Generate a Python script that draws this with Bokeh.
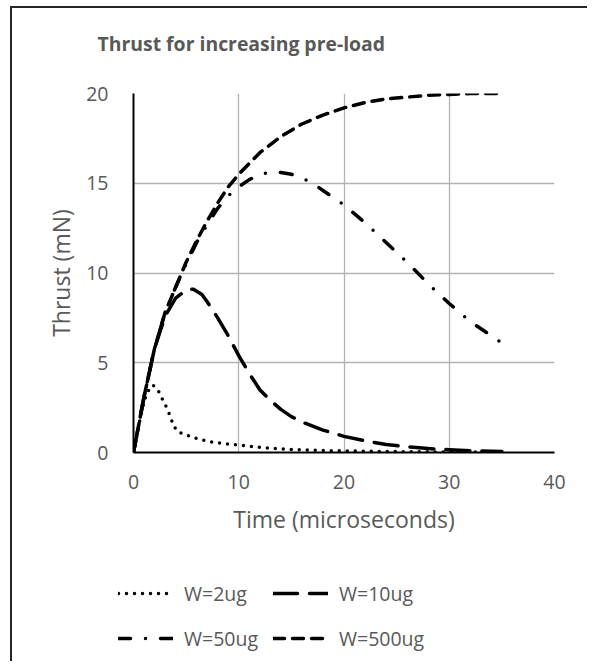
from bokeh.plotting import figure
from bokeh.models import Range1d, Legend, LegendItem, Label
from bokeh.layouts import column
from bokeh.embed import file_html
from bokeh.resources import INLINE

# ---- data ----
t_w2 = [0, 0.5, 1, 1.5, 1.8, 2.1, 2.5, 2.8, 3.2, 3.5, 3.8, 4.2, 4.8, 5.6, 6.4, 7.2, 8, 9, 10, 11, 12, 13, 14.5, 16, 18, 20, 22, 25, 28, 31, 35]
v_w2 = [0, 1.5, 2.85, 3.55, 3.75, 3.65, 3.3, 2.9, 2.45, 2.0, 1.5, 1.15, 1.02, 0.85, 0.72, 0.61, 0.54, 0.47, 0.42, 0.34, 0.29, 0.24, 0.18, 0.14, 0.11, 0.09, 0.07, 0.05, 0.035, 0.025, 0.015]

t_w10 = [0, 1, 2, 3, 4, 5, 5.7, 6.5, 7, 8, 9, 10, 11, 12, 13, 14, 15, 16, 18, 20, 22, 24, 26, 28, 30, 32, 35]
v_w10 = [0, 3.1, 5.8, 7.6, 8.6, 9.05, 9.1, 8.8, 8.4, 7.5, 6.5, 5.4, 4.4, 3.5, 2.9, 2.4, 2.0, 1.7, 1.25, 0.9, 0.65, 0.45, 0.32, 0.22, 0.15, 0.1, 0.05]

t_w50 = [0, 1, 2, 3, 4, 5, 6, 7, 8, 9, 10, 11, 12, 13, 14, 15, 16, 17, 18, 19, 20, 22, 24, 26, 28, 30, 32, 34, 35]
v_w50 = [0, 3.1, 5.8, 7.8, 9.2, 10.5, 11.7, 12.7, 13.6, 14.3, 14.8, 15.2, 15.5, 15.6, 15.6, 15.5, 15.3, 15.0, 14.6, 14.2, 13.8, 12.8, 11.7, 10.6, 9.4, 8.3, 7.3, 6.5, 6.1]

t_w500 = [0, 1, 2, 3, 4, 5, 6, 7, 8, 9, 10, 12, 14, 16, 18, 20, 22, 24, 26, 28, 30, 32, 35]
v_w500 = [0, 3.1, 5.8, 7.8, 9.2, 10.6, 11.8, 12.9, 13.9, 14.8, 15.5, 16.7, 17.6, 18.3, 18.8, 19.2, 19.5, 19.7, 19.8, 19.9, 19.95, 20.0, 20.0]

title_text = "Thrust for increasing pre-load"
series_labels = ["W=2ug", "W=10ug", "W=50ug", "W=500ug"]
series_dash = ["0 8", "24 12", "12 15 0 15", "11 8"]
x_ticks = [0, 10, 20, 30, 40]
y_ticks = [0, 5, 10, 15, 20]

FONT = "Open Sans"
TXT = "#595959"
LW = 3.5
W = 575


def strip(height):
    f = figure(width=W, height=height, output_backend="svg", toolbar_location=None,
               x_range=Range1d(0, W), y_range=Range1d(0, height),
               min_border=0, min_border_left=0, min_border_right=0,
               min_border_top=0, min_border_bottom=0)
    f.axis.visible = False
    f.grid.visible = False
    f.outline_line_color = None
    f.background_fill_color = "white"
    f.border_fill_color = "white"
    return f


# ---------------- title strip ----------------
tf = strip(70)
tf.add_layout(Label(x=85, y=35, x_units="screen", y_units="screen", text=title_text,
                    text_font=FONT, text_font_size="19.4px", text_font_style="bold",
                    text_color=TXT, text_baseline="middle", text_align="left"))

# ---------------- main chart ----------------
p = figure(width=W, height=490, output_backend="svg", toolbar_location=None,
           x_range=Range1d(0, 40), y_range=Range1d(0, 20),
           min_border_left=121, min_border_right=33, min_border_top=15,
           min_border_bottom=116)
p.title.visible = False
p.outline_line_color = None
p.background_fill_color = "white"
p.border_fill_color = "white"

for ax in (p.xaxis[0], p.yaxis[0]):
    ax.major_tick_line_color = None
    ax.minor_tick_line_color = None
    ax.major_tick_out = 0
    ax.major_tick_in = 0
    ax.axis_line_color = "black"
    ax.axis_line_width = 2
    ax.major_label_text_font = FONT
    ax.major_label_text_font_size = "19.5px"
    ax.major_label_text_color = TXT
    ax.axis_label_text_font = FONT
    ax.axis_label_text_font_size = "23px"
    ax.axis_label_text_font_style = "normal"
    ax.axis_label_text_color = TXT

p.xaxis.ticker = x_ticks
p.yaxis.ticker = y_ticks
p.xaxis.axis_label = "Time (microseconds)"
p.yaxis.axis_label = "Thrust (mN)"
p.xaxis.major_label_standoff = 22
p.yaxis.major_label_standoff = 25
p.xaxis.axis_label_standoff = 11
p.yaxis.axis_label_standoff = 6

p.xgrid.ticker = x_ticks
p.ygrid.ticker = y_ticks
p.grid.grid_line_color = "#b3b3b3"
p.grid.grid_line_width = 1.3

series = [(t_w2, v_w2), (t_w10, v_w10), (t_w50, v_w50), (t_w500, v_w500)]
for (t, v), dash in zip(series, series_dash):
    p.line(t, v, line_color="black", line_width=LW, line_dash=dash,
           line_cap="round", line_join="round")

# ---------------- legend strip ----------------
lg = strip(93)
items = []
for (t, v), lab, dash in zip(series, series_labels, series_dash):
    r = lg.line(t, v, line_color="black", line_width=LW, line_dash=dash,
                line_cap="round", line_join="round", visible=False)
    items.append(LegendItem(label=lab, renderers=[r]))

leg = Legend(items=items, location=(106, 8), orientation="horizontal", ncols=2,
             padding=0, margin=0, spacing=15, glyph_width=55, glyph_height=30,
             label_height=30, label_standoff=11, label_text_font=FONT,
             label_text_font_size="19.5px", label_text_color=TXT,
             border_line_color=None, background_fill_alpha=0,
             inactive_fill_alpha=0, click_policy="none")
lg.add_layout(leg)

for fig in (tf, p, lg):
    if "frame_align" in fig.properties():
        fig.frame_align = False

layout = column(tf, p, lg, spacing=0)
layout.styles = {"border-left": "2px solid #262626", "border-top": "2px solid #262626",
                 "margin-left": "10px", "margin-top": "6px"}

open("out.html", "w").write(file_html(layout, INLINE))
